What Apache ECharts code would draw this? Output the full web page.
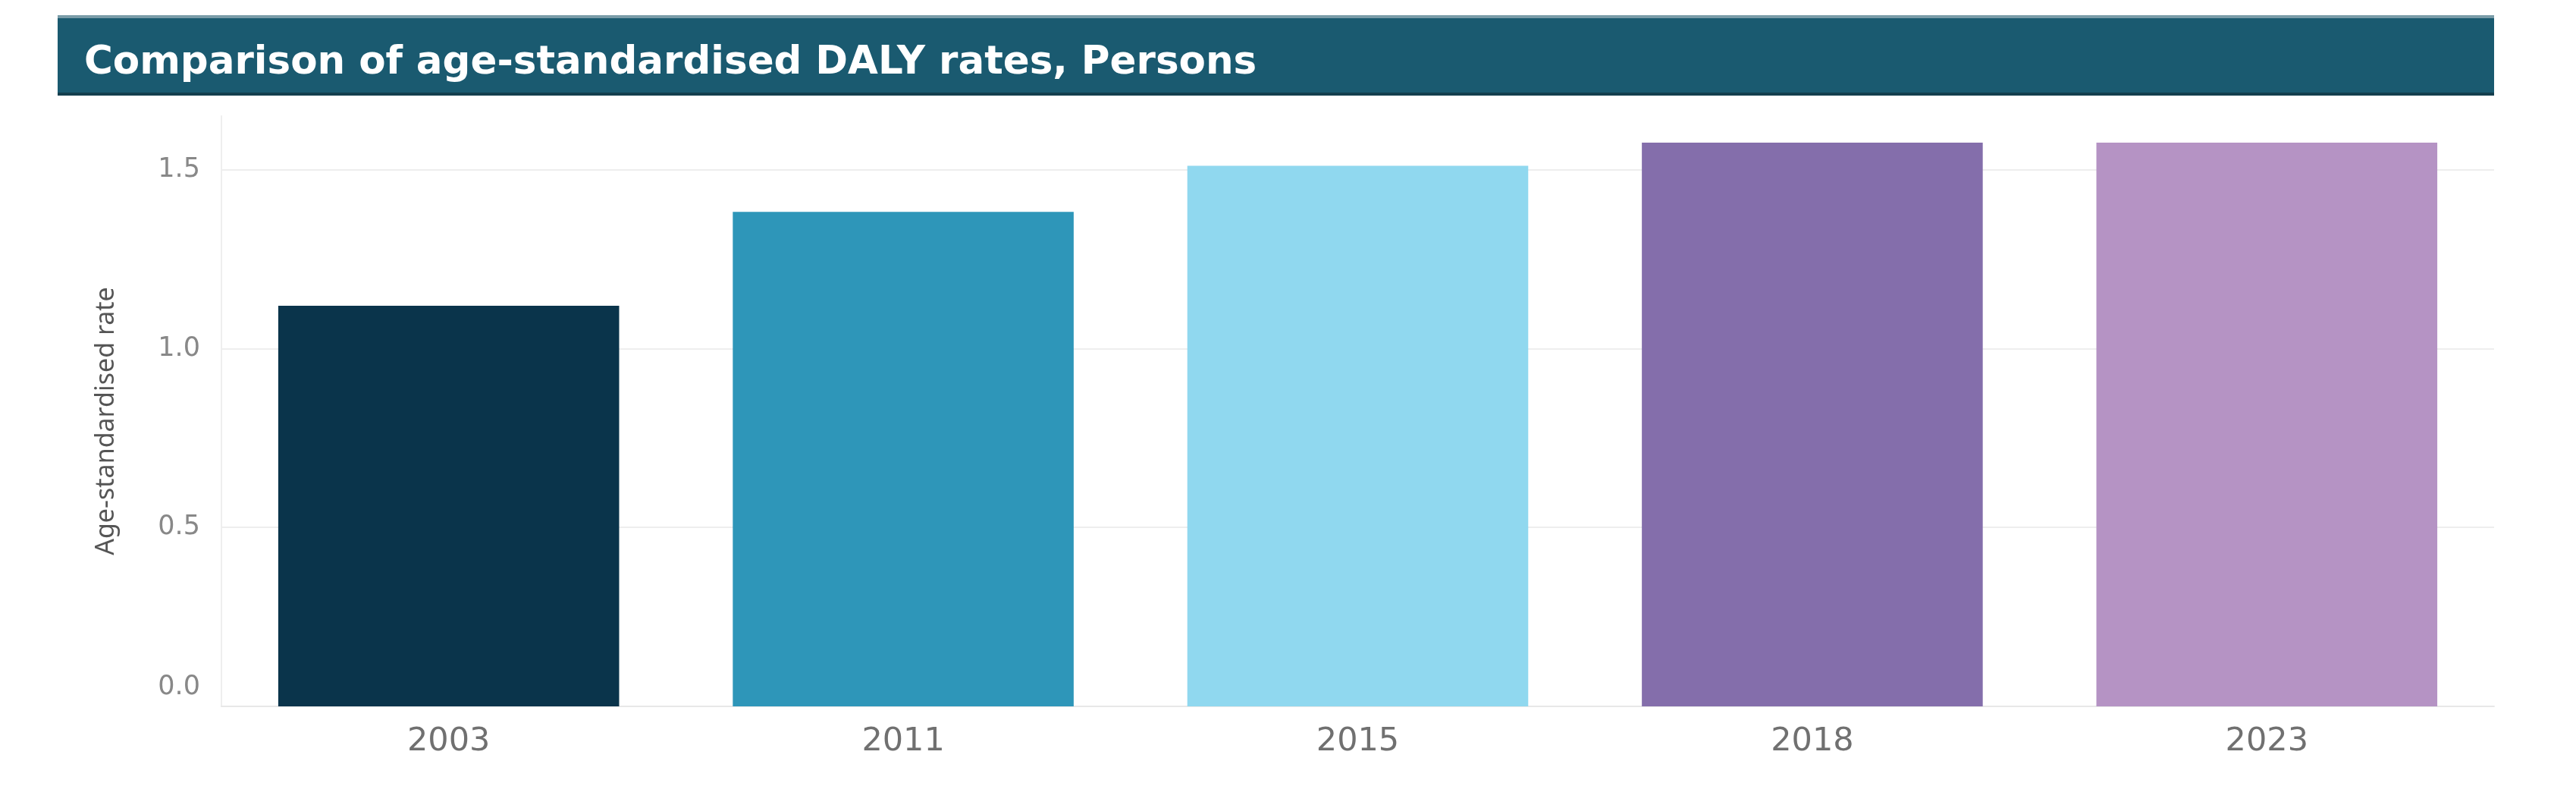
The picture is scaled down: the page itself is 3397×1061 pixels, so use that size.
<!DOCTYPE html>
<html>
<head>
<meta charset="utf-8">
<script src="https://cdn.jsdelivr.net/npm/echarts@6/dist/echarts.min.js"></script>
<style>
html,body{margin:0;padding:0;background:#fff;}
#chart{width:3397px;height:1061px;}
</style>
</head>
<body>
<div id="chart"></div>
<script>
const titleText = 'Comparison of age-standardised DALY rates, Persons';
const yAxisName = 'Age-standardised rate';
const categories = ['2003', '2011', '2015', '2018', '2023'];
const rates = [1.12, 1.382, 1.511, 1.576, 1.576];
const barColors = ['#0a344b', '#2e96b9', '#90d8ef', '#846eab', '#b593c4'];

const chart = echarts.init(document.getElementById('chart'), null, {renderer: 'canvas'});
const labelFont = 'DejaVu Sans';
chart.setOption({
  animation: false,
  backgroundColor: '#ffffff',
  title: {
    text: titleText,
    left: 106,
    top: 53,
    textStyle: {color: '#ffffff', fontFamily: 'DejaVu Sans', fontWeight: 'bold', fontSize: 51.5}
  },
  graphic: [
    {type: 'rect', z: -1, shape: {x: 76, y: 22, width: 3213, height: 104}, style: {fill: '#1a5a70'}},
    {type: 'rect', z: -1, shape: {x: 76, y: 20, width: 3213, height: 4}, style: {fill: '#7a9ca8'}},
    {type: 'rect', z: -1, shape: {x: 76, y: 122, width: 3213, height: 4}, style: {fill: '#143f4e'}}
  ],
  grid: {left: 292, right: 108, top: 153, bottom: 130, containLabel: false},
  xAxis: {
    type: 'category',
    data: categories,
    axisLine: {show: true, lineStyle: {color: '#e8e8e8', width: 2}},
    axisTick: {show: false},
    axisLabel: {color: '#707070', fontFamily: labelFont, fontSize: 43, margin: 25}
  },
  yAxis: {
    type: 'value',
    min: 0,
    max: 1.65,
    interval: 0.5,
    name: yAxisName,
    nameLocation: 'middle',
    nameRotate: 90,
    nameGap: 135,
    nameTextStyle: {color: '#555555', fontFamily: 'Noto Sans', fontSize: 34, padding: [0, 26, 0, 0]},
    axisLine: {show: true, lineStyle: {color: '#eeeeee', width: 2}},
    axisTick: {show: false},
    splitLine: {show: true, showMaxLine: false, lineStyle: {color: '#eeeeee', width: 2}},
    axisLabel: {
      showMaxLabel: false,
      margin: 28,
      color: '#888888',
      fontFamily: labelFont,
      fontSize: 35,
      formatter: function (v) {
        return v === 0 ? '{z|0.0}' : '{n|' + v.toFixed(1) + '}';
      },
      rich: {
        z: {color: '#888888', fontFamily: labelFont, fontSize: 35, padding: [0, 0, 50, 0]},
        n: {color: '#888888', fontFamily: labelFont, fontSize: 35}
      }
    }
  },
  series: [{
    type: 'bar',
    data: rates.map((v, i) => ({value: v, itemStyle: {color: barColors[i]}})),
    barCategoryGap: '25%'
  }]
});
</script>
</body>
</html>
